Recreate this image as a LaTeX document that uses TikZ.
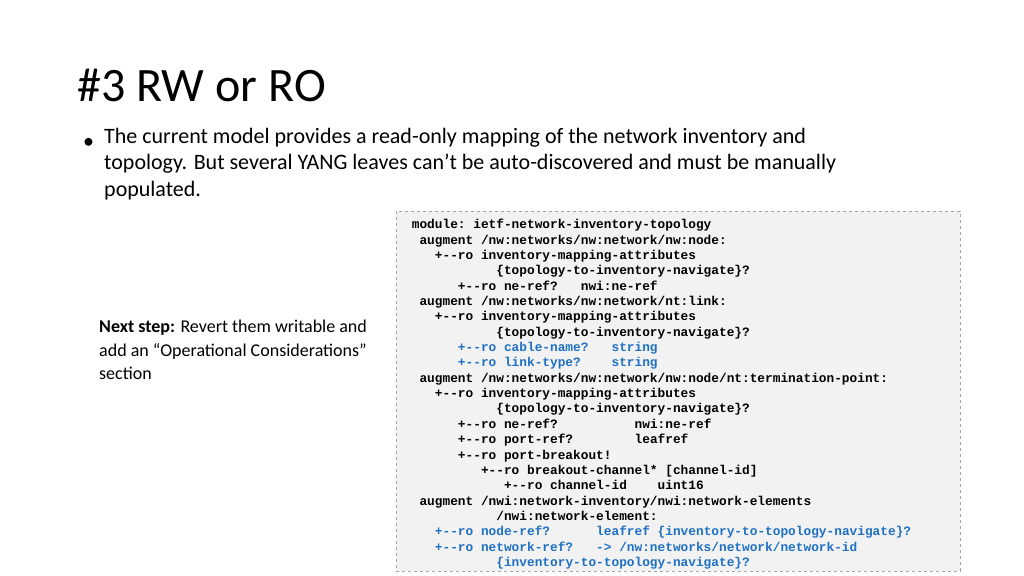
\documentclass[tikz,border=0pt]{standalone}
\usepackage{fontspec}
\usepackage{alltt}
\setmainfont{Carlito}
\setmonofont{Liberation Mono}
\definecolor{codeblue}{RGB}{30,112,196}
\definecolor{codegray}{RGB}{242,242,242}
\newcommand{\hl}[1]{\textcolor{codeblue}{#1}}

\begin{document}
\begin{tikzpicture}[x=1pt,y=-1pt,
    slidetext/.style={anchor=north west, inner sep=0pt, align=left},
    codebox/.style={draw=gray!70, dashed, fill=codegray}]
    \useasboundingbox (0,0) rectangle (1024,575);

    \node[slidetext, anchor=base west, font=\fontsize{48}{56}\selectfont] (title) at (77,102)
        {\#3 RW or RO};

    \node[slidetext, anchor=base west, font=\fontsize{22}{26}\selectfont] (bullet) at (83,148)
        {•};
    \node[slidetext, font=\fontsize{22}{26.5}\selectfont] (intro) at (104,128)
        {The current model provides a read-only mapping of the network inventory and\\
         topology. But several YANG leaves can’t be auto-discovered and must be manually\\
         populated.};

    \node[slidetext, font=\fontsize{18}{23.5}\selectfont] (nextstep) at (99,320)
        {\textbf{Next step:} Revert them writable and\\
         add an “Operational Considerations”\\
         section};

    \draw[codebox] (396,211) rectangle (960,571);
    \node[slidetext, font=\fontsize{12.8}{15.36}\selectfont] (tree) at (404,219)
        {\begin{minipage}{550pt}
\begin{alltt}\bfseries module: ietf-network-inventory-topology
  augment /nw:networks/nw:network/nw:node:
    +--ro inventory-mapping-attributes
            \{topology-to-inventory-navigate\}?
       +--ro ne-ref?   nwi:ne-ref
  augment /nw:networks/nw:network/nt:link:
    +--ro inventory-mapping-attributes
            \{topology-to-inventory-navigate\}?
       \hl{+--ro cable-name?   string}
       \hl{+--ro link-type?    string}
  augment /nw:networks/nw:network/nw:node/nt:termination-point:
    +--ro inventory-mapping-attributes
            \{topology-to-inventory-navigate\}?
       +--ro ne-ref?          nwi:ne-ref
       +--ro port-ref?        leafref
       +--ro port-breakout!
          +--ro breakout-channel* [channel-id]
             +--ro channel-id    uint16
  augment /nwi:network-inventory/nwi:network-elements
            /nwi:network-element:
    \hl{+--ro node-ref?      leafref \{inventory-to-topology-navigate\}?}
    \hl{+--ro network-ref?   -> /nw:networks/network/network-id}
            \hl{\{inventory-to-topology-navigate\}?}
\end{alltt}
\end{minipage}};
\end{tikzpicture}
\end{document}
